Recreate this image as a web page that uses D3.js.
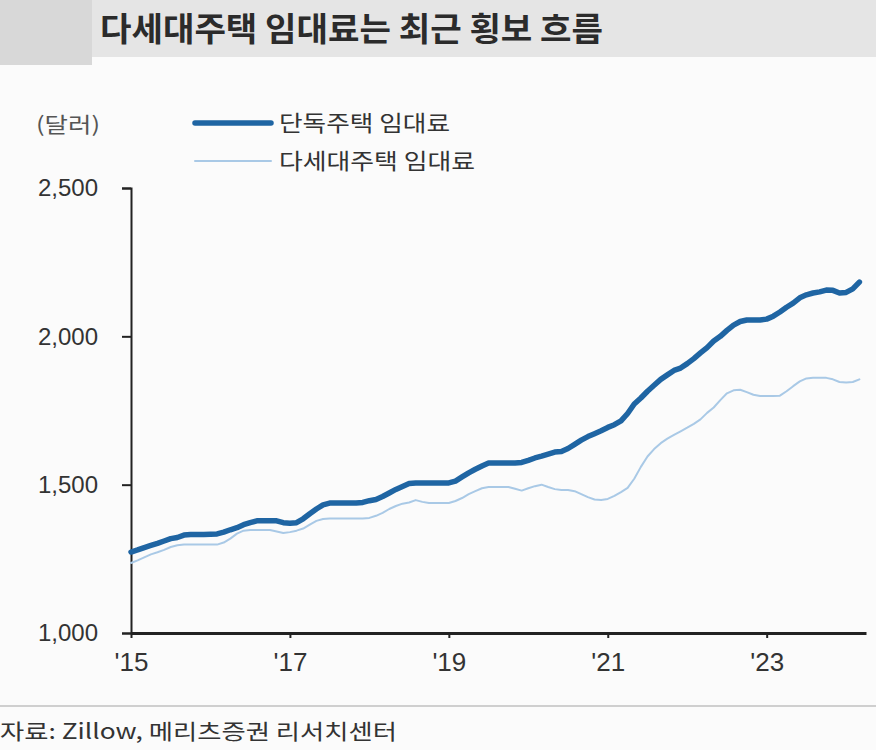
<!DOCTYPE html>
<html>
<head>
<meta charset="utf-8">
<script src="https://cdn.jsdelivr.net/npm/d3@7"></script>
<style>
  body { margin: 0; background: #fbfbfb; }
  svg { font-family: "Noto Sans CJK KR", "Noto Sans", sans-serif; }
</style>
</head>
<body>
<div id="chart"></div>
<script>
// monthly, Jan 2015 .. Mar 2024 (USD)
var startYear = 2015
var singleFamily = [
  1273, 1280, 1288, 1295, 1302, 1310, 1318, 1322, 1330, 1332, 1332, 1332,
  1333, 1334, 1340, 1348, 1355, 1365, 1372, 1378, 1378, 1378, 1378, 1372,
  1370, 1372, 1385, 1402, 1418, 1432, 1438, 1438, 1438, 1438, 1438, 1440,
  1446, 1450, 1460, 1472, 1484, 1494, 1504, 1506, 1506, 1506, 1506, 1506,
  1506, 1512, 1526, 1540, 1552, 1563, 1573, 1573, 1573, 1573, 1573, 1575,
  1582, 1590, 1596, 1603, 1610, 1612, 1622, 1636, 1650, 1662, 1672, 1682,
  1693, 1702, 1715, 1740, 1772, 1792, 1815, 1835, 1855, 1870, 1885, 1893,
  1908, 1925, 1944, 1962, 1984, 2000, 2020, 2038, 2050, 2055, 2055, 2055,
  2058, 2068, 2082, 2098, 2112, 2130, 2140, 2146, 2150, 2156, 2155, 2146,
  2148, 2160, 2183
]
var multiFamily = [
  1236, 1245, 1255, 1265, 1272, 1280, 1290, 1296, 1298, 1298, 1298, 1298,
  1298, 1298, 1305, 1318, 1335, 1345, 1347, 1347, 1347, 1347, 1342, 1337,
  1340, 1345, 1352, 1365, 1378, 1384, 1386, 1386, 1386, 1386, 1386, 1386,
  1388, 1395, 1405, 1418, 1428, 1436, 1440, 1448, 1442, 1438, 1438, 1438,
  1438, 1445, 1455, 1468, 1478, 1488, 1492, 1492, 1492, 1492, 1486, 1480,
  1488, 1495, 1500, 1492, 1485, 1482, 1482, 1478, 1468, 1458, 1450, 1448,
  1452, 1462, 1475, 1489, 1520, 1560, 1595, 1620, 1640, 1655, 1668, 1680,
  1692, 1705, 1720, 1742, 1760, 1785, 1808, 1818, 1820, 1812, 1803, 1799,
  1799, 1799, 1800, 1815, 1832, 1848, 1858, 1860, 1860, 1860, 1855, 1846,
  1844, 1846, 1855
]
var yTicks = [1000, 1500, 2000, 2500]
var xTicks = [2015, 2017, 2019, 2021, 2023]
var seriesNames = ["단독주택 임대료", "다세대주택 임대료"]
var seriesColors = ["#1f65a3", "#a9c9e6"]
var seriesWidths = [5.5, 2]

var W = 876, H = 750
var svg = d3.select("#chart").append("svg")
  .attr("width", W)
  .attr("height", H)

// title band
svg.append("rect").attr("x", 0).attr("y", 0).attr("width", W).attr("height", 57).attr("fill", "#e5e5e5")
svg.append("rect").attr("x", 0).attr("y", 0).attr("width", 92).attr("height", 65).attr("fill", "#d8d8d8")
svg.append("text")
  .attr("x", 100).attr("y", 41)
  .attr("font-size", 33).attr("font-weight", 700).attr("fill", "#2b2b2b")
  .attr("textLength", 503).attr("lengthAdjust", "spacingAndGlyphs")
  .text("다세대주택 임대료는 최근 횡보 흐름")

var x = d3.scaleLinear().domain([2015, 2024.25]).range([131, 866])
var y = d3.scaleLinear().domain([1000, 2500]).range([633, 188])
var xOf = function (d, i) { return x(startYear + i / 12) }

// y axis
var yAxis = svg.append("g")
  .attr("transform", "translate(131,0)")
  .call(d3.axisLeft(y).tickValues(yTicks).tickSize(9).tickFormat(d3.format(",")))
yAxis.select(".domain").attr("stroke", "#222").attr("stroke-width", 2)
yAxis.selectAll(".tick line").attr("stroke", "#222").attr("stroke-width", 2)
yAxis.selectAll(".tick text")
  .attr("x", -33).attr("font-size", 24).attr("fill", "#333")
  .attr("font-family", "Liberation Sans, Arial, sans-serif")

// x axis
var xAxis = svg.append("g")
  .attr("transform", "translate(0,633)")
  .call(d3.axisBottom(x).tickValues(xTicks).tickSize(5).tickSizeOuter(0)
    .tickFormat(function (d) { return "'" + String(d).slice(2) }))
xAxis.select(".domain").attr("stroke", "#222").attr("stroke-width", 3)
xAxis.selectAll(".tick line").attr("stroke", "#222").attr("stroke-width", 2)
xAxis.selectAll(".tick text")
  .attr("y", 20).attr("font-size", 26).attr("fill", "#333")
  .attr("font-family", "Liberation Sans, Arial, sans-serif")

// lines
var line = d3.line().x(xOf).y(function (d) { return y(d) }).curve(d3.curveLinear)
var allSeries = [multiFamily, singleFamily]
var order = [1, 0]
allSeries.forEach(function (s, k) {
  var idx = order[k]
  svg.append("path")
    .datum(s)
    .attr("d", line)
    .attr("fill", "none")
    .attr("stroke", seriesColors[idx])
    .attr("stroke-width", seriesWidths[idx])
    .attr("stroke-linejoin", "round")
    .attr("stroke-linecap", "round")
})

// unit label
svg.append("text")
  .attr("x", 36).attr("y", 132)
  .attr("font-size", 21).attr("fill", "#555")
  .attr("textLength", 64).attr("lengthAdjust", "spacingAndGlyphs")
  .text("(달러)")

// legend
var legendWidths = [171, 196]
var legend = svg.append("g")
seriesNames.forEach(function (name, i) {
  var ly = 123 + i * 38
  legend.append("line")
    .attr("x1", 195).attr("x2", 271)
    .attr("y1", ly).attr("y2", ly)
    .attr("stroke", seriesColors[i])
    .attr("stroke-width", seriesWidths[i])
    .attr("stroke-linecap", "round")
  legend.append("text")
    .attr("x", 279).attr("y", ly + 8)
    .attr("font-size", 22).attr("fill", "#333")
    .attr("textLength", legendWidths[i]).attr("lengthAdjust", "spacingAndGlyphs")
    .text(name)
})

// bottom rule and source
svg.append("line")
  .attr("x1", 0).attr("x2", W).attr("y1", 706).attr("y2", 706)
  .attr("stroke", "#cfcfcf").attr("stroke-width", 2)
svg.append("text")
  .attr("x", 0).attr("y", 739)
  .attr("font-size", 21).attr("fill", "#333")
  .attr("textLength", 397).attr("lengthAdjust", "spacingAndGlyphs")
  .text("자료: Zillow, 메리츠증권 리서치센터")
</script>
</body>
</html>
